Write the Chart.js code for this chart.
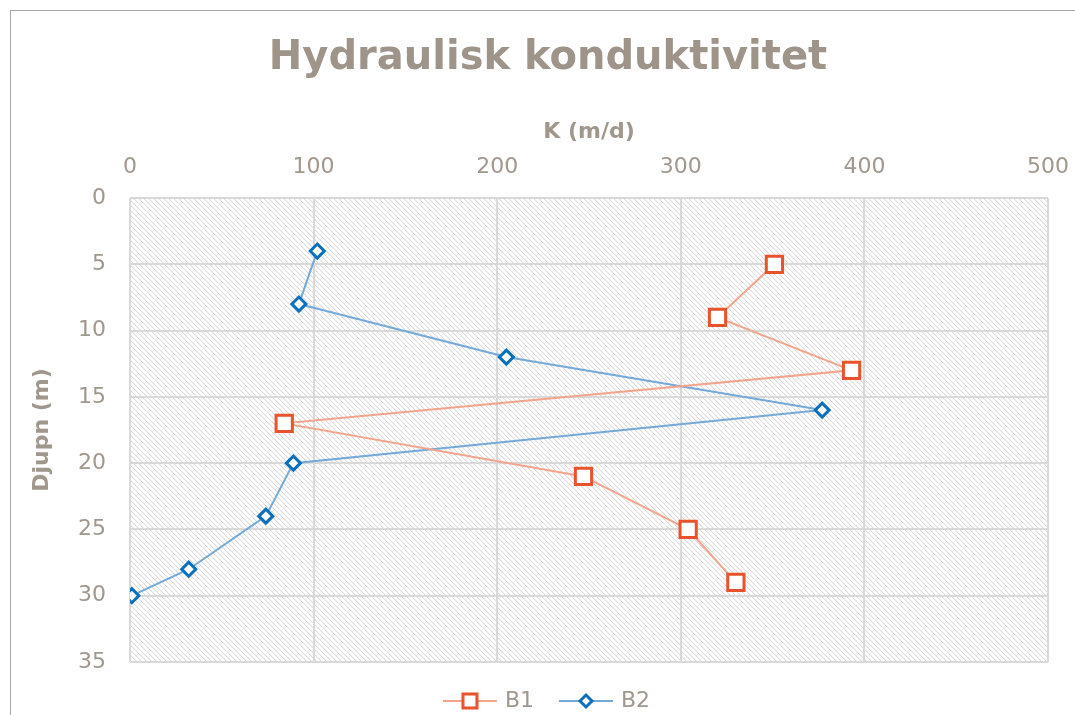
<!DOCTYPE html>
<html>
<head>
<meta charset="utf-8">
<script src="https://cdn.jsdelivr.net/npm/chart.js@4.4.0/dist/chart.umd.min.js"></script>
<style>
  html, body { margin: 0; padding: 0; background: #fff; overflow: hidden; }
  #wrap { position: relative; width: 1075px; height: 715px; }
</style>
</head>
<body>
<div id="wrap"><canvas id="chart" width="1075" height="715"></canvas></div>
<script>
// K (m/d) vs depth (m)
const b1Depth = [5, 9, 13, 17, 21, 25, 29];
const b1K = [351, 320, 393, 84, 247, 304, 330];

const b2Depth = [4, 8, 12, 16, 20, 24, 28, 30];
const b2K = [102, 92, 205, 377, 89, 74, 32, 1];

const seriesNames = ["B1", "B2"];
const xTicks = [0, 100, 200, 300, 400, 500];
const yTicks = [0, 5, 10, 15, 20, 25, 30, 35];

const textGrey = "#a0978d";
const gridGrey = "#d9d9d9";
const orange = "#e8532b";
const orangeLine = "#f2a48c";
const blue = "#0a6fbd";
const blueLine = "#74a9d8";
const fontFamily = "'DejaVu Sans', Verdana, sans-serif";

// hatch fill for the plot area
function makeHatch() {
  const s = 5;
  const c = document.createElement("canvas");
  c.width = s;
  c.height = s;
  const g = c.getContext("2d");
  g.fillStyle = "#fff";
  g.fillRect(0, 0, s, s);
  for (let i = 0; i < s; i++) {
    g.fillStyle = "#dcdcdc";
    g.fillRect(i, i, 1, 1);
    g.fillStyle = "#f3f3f3";
    g.fillRect((i + 1) % s, i, 1, 1);
  }
  return c;
}

// legend icon: short line with the marker in the middle
function makeIcon(lineColor, markColor, diamond) {
  const c = document.createElement("canvas");
  c.width = 58;
  c.height = 22;
  const g = c.getContext("2d");
  g.strokeStyle = lineColor;
  g.lineWidth = 2;
  g.beginPath();
  g.moveTo(2, 11);
  g.lineTo(56, 11);
  g.stroke();
  g.fillStyle = "#fff";
  g.strokeStyle = markColor;
  g.lineWidth = 3;
  g.beginPath();
  if (diamond) {
    g.moveTo(29 - 6, 11);
    g.lineTo(29, 5);
    g.lineTo(29 + 6, 11);
    g.lineTo(29, 17);
    g.closePath();
  } else {
    g.rect(29 - 7, 11 - 7, 14, 14);
  }
  g.fill();
  g.stroke();
  return c;
}

const icons = [
  makeIcon(orangeLine, orange, false),
  makeIcon(blueLine, blue, true),
];

const plotBackground = {
  id: "plotBackground",
  beforeDraw(chart) {
    const { ctx, chartArea } = chart;
    ctx.save();
    ctx.fillStyle = "#fff";
    ctx.fillRect(0, 0, chart.width, chart.height);
    ctx.strokeStyle = "#a8a8a8";
    ctx.lineWidth = 1;
    ctx.strokeRect(10.5, 10.5, 3000, 3000);
    ctx.fillStyle = ctx.createPattern(makeHatch(), "repeat");
    ctx.fillRect(
      chartArea.left,
      chartArea.top,
      chartArea.right - chartArea.left,
      chartArea.bottom - chartArea.top
    );
    ctx.restore();
  },
};

const toPoints = (xs, ys) => xs.map((x, i) => ({ x: x, y: ys[i] }));

new Chart(document.getElementById("chart"), {
  type: "scatter",
  data: {
    datasets: [
      {
        label: seriesNames[0],
        data: toPoints(b1K, b1Depth),
        showLine: true,
        borderColor: orangeLine,
        borderWidth: 2,
        pointStyle: "rect",
        pointRadius: 11.5,
        pointBorderWidth: 3,
        pointBorderColor: orange,
        pointBackgroundColor: "#fff",
        tension: 0,
      },
      {
        label: seriesNames[1],
        data: toPoints(b2K, b2Depth),
        showLine: true,
        borderColor: blueLine,
        borderWidth: 2,
        pointStyle: "rectRot",
        pointRadius: 7,
        pointBorderWidth: 3,
        pointBorderColor: blue,
        pointBackgroundColor: "#fff",
        tension: 0,
      },
    ],
  },
  options: {
    responsive: false,
    animation: false,
    layout: { padding: { left: 48, right: 27, top: 10, bottom: -7 } },
    scales: {
      x: {
        type: "linear",
        position: "top",
        min: 0,
        max: 500,
        afterBuildTicks: (s) => { s.ticks = xTicks.map((v) => ({ value: v })); },
        afterFit: (s) => { s.height = 115; s.paddingLeft = 0; s.paddingRight = 0; },
        grid: { color: gridGrey, lineWidth: 2, drawTicks: false },
        border: { display: false },
        ticks: {
          color: textGrey,
          font: { family: fontFamily, size: 22 },
          padding: 18,
          maxRotation: 0,
        },
        title: {
          display: true,
          text: "K (m/d)",
          color: textGrey,
          font: { family: fontFamily, size: 22, weight: "bold" },
          padding: { top: 36, bottom: 0 },
        },
      },
      y: {
        type: "linear",
        reverse: true,
        min: 0,
        max: 35,
        afterBuildTicks: (s) => { s.ticks = yTicks.map((v) => ({ value: v })); },
        afterFit: (s) => { s.width = 82; },
        grid: { color: gridGrey, lineWidth: 2, drawTicks: false },
        border: { display: false },
        ticks: {
          color: textGrey,
          font: { family: fontFamily, size: 22 },
          padding: 24,
        },
        title: {
          display: true,
          text: "Djupn (m)",
          color: textGrey,
          font: { family: fontFamily, size: 22, weight: "bold" },
          padding: { top: -19, bottom: 0 },
        },
      },
    },
    plugins: {
      title: {
        display: true,
        text: "Hydraulisk konduktivitet",
        color: "#9e9489",
        font: { family: fontFamily, size: 40, weight: "bold" },
        padding: { top: 25, bottom: 0 },
      },
      legend: {
        position: "bottom",
        labels: {
          color: textGrey,
          font: { family: fontFamily, size: 22 },
          usePointStyle: true,
          pointStyleWidth: 48,
          padding: 28,
          generateLabels: (chart) => {
            const items = Chart.defaults.plugins.legend.labels.generateLabels(chart);
            items.forEach((item, i) => {
              item.pointStyle = icons[i];
            });
            return items;
          },
        },
      },
      tooltip: { enabled: false },
    },
  },
  plugins: [plotBackground],
});
</script>
</body>
</html>
